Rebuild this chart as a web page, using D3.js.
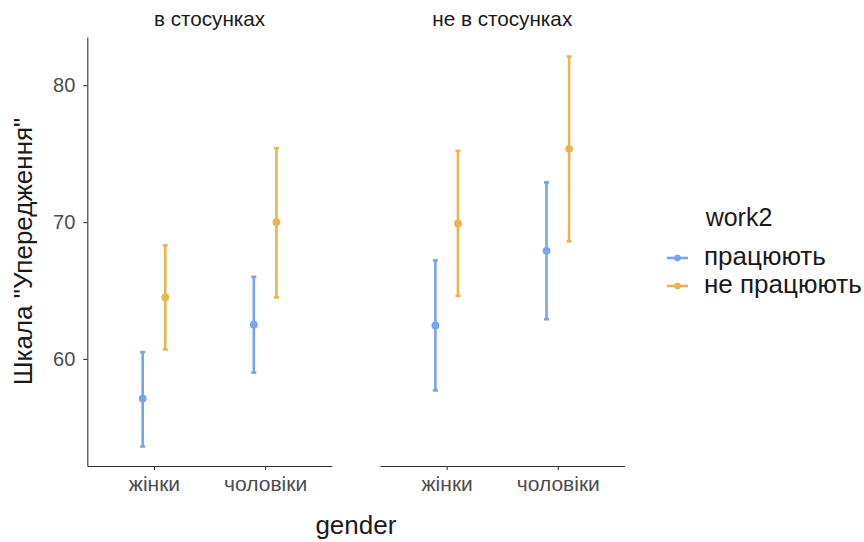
<!DOCTYPE html>
<html>
<head>
<meta charset="utf-8">
<script src="https://cdn.jsdelivr.net/npm/d3@7"></script>
<style>
  body { margin: 0; background: #fff; }
  text { font-family: "Liberation Sans", Arial, sans-serif; }
</style>
</head>
<body>
<div id="chart"></div>
<script>
// Data
const facets = ['в стосунках', 'не в стосунках'];
const genders = ['жінки', 'чоловіки'];
const groups = ['працюють', 'не працюють'];

// order: [facet1 жінки, facet1 чоловіки, facet2 жінки, facet2 чоловіки]
const meanWorking = [57.1, 62.5, 62.45, 67.9];
const lowWorking = [53.6, 59.0, 57.7, 62.9];
const highWorking = [60.5, 66.0, 67.2, 72.9];

const meanNotWorking = [64.5, 70.0, 69.9, 75.35];
const lowNotWorking = [60.7, 64.5, 64.6, 68.6];
const highNotWorking = [68.3, 75.4, 75.2, 82.1];

const yTicks = [60, 70, 80];

const colors = ['#76a5ef', '#eab44e'];

// build rows
const rows = [];
[[meanWorking, lowWorking, highWorking], [meanNotWorking, lowNotWorking, highNotWorking]]
  .forEach(([m, lo, hi], g) => {
    m.forEach((v, i) => {
      rows.push({
        facet: facets[Math.floor(i / 2)],
        gender: genders[i % 2],
        group: groups[g],
        mean: v,
        low: lo[i],
        high: hi[i]
      });
    });
  });

const width = 864;
const height = 542;
const panelTop = 37;
const panelBottom = 466;
const panelW = 244.5;
const panelLefts = [87.3, 380];
const font = '"Liberation Sans", Arial, sans-serif';

const svg = d3.select('#chart')
  .append('svg')
  .attr('width', width)
  .attr('height', height);

// y scale with ggplot-like 5% expansion
const yMin = d3.min(rows, (d) => d.low);
const yMax = d3.max(rows, (d) => d.high);
const pad = (yMax - yMin) * 0.05;
const yScale = d3.scaleLinear()
  .domain([yMin - pad, yMax + pad])
  .range([panelBottom, panelTop]);

// dodge offsets: groups sit 11px either side of the tick
const dodge = d3.scalePoint()
  .domain(groups)
  .range([-11.3, 11.3]);

facets.forEach((f, p) => {
  const x0 = panelLefts[p];
  const xScale = d3.scalePoint()
    .domain(genders)
    .range([x0, x0 + panelW])
    .padding(0.6);

  const g = svg.append('g');

  // x axis
  const xAxis = g.append('g')
    .attr('transform', `translate(0,${panelBottom})`)
    .call(d3.axisBottom(xScale).tickSize(4).tickPadding(6).tickSizeOuter(0));
  xAxis.select('.domain').attr('stroke', '#333').attr('stroke-width', 1.1);
  xAxis.selectAll('.tick line').attr('stroke', '#333').attr('stroke-width', 1.1);
  xAxis.selectAll('.tick text')
    .attr('fill', '#4d4d4d')
    .style('font-size', '21px')
    .style('font-family', font);

  // y axis only on the first panel
  if (p === 0) {
    const yAxis = g.append('g')
      .attr('transform', `translate(${x0},0)`)
      .call(d3.axisLeft(yScale).tickValues(yTicks).tickSize(4).tickPadding(8).tickSizeOuter(0));
    yAxis.select('.domain').attr('stroke', '#333').attr('stroke-width', 1.1);
    yAxis.selectAll('.tick line').attr('stroke', '#333').attr('stroke-width', 1.1);
    yAxis.selectAll('.tick text')
      .attr('fill', '#4d4d4d')
      .style('font-size', '20px')
      .style('font-family', font);
  }

  // strip label
  g.append('text')
    .attr('x', x0 + panelW / 2)
    .attr('y', 26)
    .attr('text-anchor', 'middle')
    .attr('fill', '#1a1a1a')
    .style('font-size', '20.7px')
    .text(f);

  const data = rows.filter((d) => d.facet === f);
  const cx = (d) => xScale(d.gender) + dodge(d.group);

  // error bars
  const bars = g.selectAll('.bar')
    .data(data)
    .join('g')
    .attr('stroke', (d) => colors[groups.indexOf(d.group)])
    .attr('stroke-width', 2.6);

  bars.append('line')
    .attr('x1', cx).attr('x2', cx)
    .attr('y1', (d) => yScale(d.low))
    .attr('y2', (d) => yScale(d.high));
  bars.append('line')
    .attr('x1', (d) => cx(d) - 2.5).attr('x2', (d) => cx(d) + 2.5)
    .attr('y1', (d) => yScale(d.low)).attr('y2', (d) => yScale(d.low));
  bars.append('line')
    .attr('x1', (d) => cx(d) - 2.5).attr('x2', (d) => cx(d) + 2.5)
    .attr('y1', (d) => yScale(d.high)).attr('y2', (d) => yScale(d.high));

  g.selectAll('.pt')
    .data(data)
    .join('circle')
    .attr('cx', cx)
    .attr('cy', (d) => yScale(d.mean))
    .attr('r', 3.9)
    .attr('fill', (d) => colors[groups.indexOf(d.group)]);
});

// axis titles
svg.append('text')
  .attr('x', (panelLefts[0] + panelLefts[1] + panelW) / 2)
  .attr('y', 534)
  .attr('text-anchor', 'middle')
  .attr('fill', '#1a1a1a')
  .style('font-size', '26px')
  .text('gender');

svg.append('text')
  .attr('transform', `translate(32,${(panelTop + panelBottom) / 2}) rotate(-90)`)
  .attr('text-anchor', 'middle')
  .attr('fill', '#1a1a1a')
  .style('font-size', '26px')
  .text('Шкала "Упередження"');

// legend
const legend = svg.append('g').attr('transform', 'translate(667,0)');
legend.append('text')
  .attr('x', 72)
  .attr('y', 226)
  .attr('text-anchor', 'middle')
  .attr('fill', '#1a1a1a')
  .style('font-size', '25px')
  .text('work2');

const items = legend.selectAll('.item')
  .data(groups)
  .join('g')
  .attr('transform', (d, i) => `translate(0,${258 + i * 28})`);

items.append('line')
  .attr('x1', 0).attr('x2', 21)
  .attr('stroke', (d, i) => colors[i])
  .attr('stroke-width', 2.6);
items.append('circle')
  .attr('cx', 10.5)
  .attr('r', 3.3)
  .attr('fill', (d, i) => colors[i]);
items.append('text')
  .attr('x', 37)
  .attr('y', 7)
  .attr('fill', '#1a1a1a')
  .style('font-size', '26px')
  .text((d) => d);
</script>
</body>
</html>
